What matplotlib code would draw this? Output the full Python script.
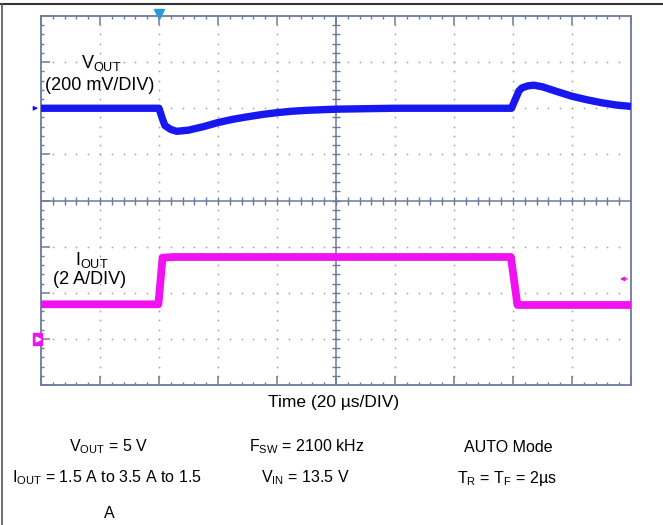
import matplotlib
matplotlib.use("Agg")
import matplotlib.pyplot as plt
import matplotlib.transforms as mtrans
from matplotlib.patches import Rectangle
from matplotlib.lines import Line2D
import numpy as np

plt.rcParams['font.family'] = ['Liberation Sans', 'DejaVu Sans']
plt.rcParams['mathtext.fontset'] = 'custom'
plt.rcParams['mathtext.rm'] = 'Liberation Sans'
plt.rcParams['mathtext.it'] = 'Liberation Sans'

# ---- data ----
# time in microseconds (20 us/DIV, 10 DIV)
t_vout = [0, 40, 41, 42, 44, 46, 50, 55, 60, 65, 70, 75, 80, 85, 90, 100, 110, 120,
          159.5, 161, 162, 163, 165, 167, 170, 175, 180, 185, 190, 195, 200]
# output voltage deviation from 5 V, in mV (200 mV/DIV)
vout_dev = [0, 0, -40, -75, -92, -100, -95, -80, -62, -48, -37, -27, -19, -13, -9, -4, -2, 0,
            0, 45, 75, 88, 97, 100, 93, 72, 52, 37, 24, 14, 8]
# output current in A (2 A/DIV)
t_iout = [0, 39.8, 41.2, 45, 100, 159.3, 161.5, 165, 200]
iout = [1.5, 1.5, 3.52, 3.55, 3.55, 3.55, 1.47, 1.47, 1.47]

time_per_div = 20.0    # us
vout_per_div = 200.0   # mV
iout_per_div = 2.0     # A
vout_pos_div = 2.0     # channel offset in DIV
iout_zero_div = -3.0   # Iout zero marker position in DIV
trig_time = 40.0
iout_level_marker = 2.6

frame_col = '#6c7a9c'
dot_col = '#a8a8a8'
vcol = '#1717f0'
icol = '#f012f0'

fig = plt.figure(figsize=(6.63, 5.25), dpi=100)
W, H = 663, 525
ax = fig.add_axes([41 / W, 140 / H, 590 / W, 369 / H])
ax.set_xlim(0, 10 * time_per_div)
ax.set_ylim(-4, 4)

# frame
for s in ax.spines.values():
    s.set_color(frame_col)
    s.set_linewidth(1.3)
ax.set_xticks(np.arange(0, 10 * time_per_div + 1, time_per_div))
ax.set_xticks(np.arange(0, 10 * time_per_div + 0.1, time_per_div / 5), minor=True)
ax.set_yticks(np.arange(-4, 5, 1))
ax.set_yticks(np.arange(-4, 4.01, 0.2), minor=True)
ax.tick_params(which='both', direction='in', top=True, right=True, bottom=True, left=True,
               labelbottom=False, labelleft=False, color=frame_col)
ax.tick_params(which='major', length=6.5, width=1.1)
ax.tick_params(which='minor', length=2.5, width=1.0)

# dotted grid
xmaj = np.arange(1, 10) * time_per_div
ymaj = np.arange(-3, 4)
ymin_pos = np.arange(-4, 4.01, 0.2)[1:-1]
xmin_pos = np.arange(0, 10 * time_per_div + 0.1, time_per_div / 5)[1:-1]
for xm in xmaj:
    if abs(xm - 5 * time_per_div) < 1e-6:
        continue
    ax.plot(np.full_like(ymin_pos, xm), ymin_pos, ls='none', marker='o', ms=1.3,
            mfc=dot_col, mec='none', zorder=1)
for ym in ymaj:
    if ym == 0:
        continue
    ax.plot(xmin_pos, np.full_like(xmin_pos, ym), ls='none', marker='o', ms=1.3,
            mfc=dot_col, mec='none', zorder=1)

# center cross with ticks
ax.axhline(0, color=frame_col, lw=1.1, zorder=1.5)
ax.axvline(5 * time_per_div, color=frame_col, lw=1.1, zorder=1.5)
ax.plot(xmin_pos, np.zeros_like(xmin_pos), ls='none', marker='|', ms=6, mew=1.0,
        color=frame_col, zorder=1.5)
ax.plot(np.full_like(ymin_pos, 5 * time_per_div), ymin_pos, ls='none', marker='_', ms=6,
        mew=1.0, color=frame_col, zorder=1.5)

# trace axes
ax_v = ax.twinx()
ax_v.set_ylim((-4 - vout_pos_div) * vout_per_div, (4 - vout_pos_div) * vout_per_div)
ax_i = ax.twinx()
ax_i.set_ylim((-4 - iout_zero_div) * iout_per_div, (4 - iout_zero_div) * iout_per_div)
for a in (ax_v, ax_i):
    a.set_axis_off()

ax_v.plot(t_vout, vout_dev, color=vcol, lw=5.3, solid_joinstyle='round',
          solid_capstyle='butt')
ax_i.plot(t_iout, iout, color=icol, lw=5.6, solid_joinstyle='round',
          solid_capstyle='butt')

# trigger marker
ax.plot([trig_time], [4.05], marker='v', ms=7, color='#2a9ad6', clip_on=False, zorder=5)

# Vout position marker
ax_v.annotate('', xy=(0, 0), xycoords=('axes fraction', 'data'),
              xytext=(-7, 0), textcoords='offset points',
              arrowprops=dict(arrowstyle='-|>', color=vcol, lw=1.0, mutation_scale=6),
              annotation_clip=False)

# Iout zero marker
bt = mtrans.blended_transform_factory(fig.transFigure, ax_i.transData)
ax_i.add_patch(Rectangle((33 / W, -0.26), 9 / W, 0.52, transform=bt, color=icol,
                         clip_on=False, zorder=6))
ax_i.plot([37.5 / W], [0], marker='>', ms=3.5, color='white', transform=bt,
          clip_on=False, zorder=7)

# Iout trigger level marker
ax_i.annotate('', xy=(195.3, iout_level_marker), xytext=(199.7, iout_level_marker),
              arrowprops=dict(arrowstyle='-|>', color=icol, lw=1.0, mutation_scale=6))

# trace labels
def fy(ypix):
    return 1 - ypix / H

fig.text(101 / W, fy(63), r'V$_{\mathregular{OUT}}$', ha='center', va='center', fontsize=13)
fig.text(100 / W, fy(85), '(200 mV/DIV)', ha='center', va='center', fontsize=13)
fig.text(92 / W, fy(260), r'I$_{\mathregular{OUT}}$', ha='center', va='center', fontsize=13)
fig.text(90 / W, fy(280), '(2 A/DIV)', ha='center', va='center', fontsize=13)

# axis title and conditions
fig.text(334 / W, fy(403), 'Time (20 µs/DIV)', ha='center', va='center', fontsize=12.5)
fs = 11.5
fig.text(109 / W, fy(447), r'V$_{\mathregular{OUT}}$ = 5 V', ha='center', va='center', fontsize=fs)
fig.text(307 / W, fy(447), r'F$_{\mathregular{SW}}$ = 2100 kHz', ha='center', va='center', fontsize=fs)
fig.text(508 / W, fy(447), 'AUTO Mode', ha='center', va='center', fontsize=fs)
fig.text(107 / W, fy(478), r'I$_{\mathregular{OUT}}$ = 1.5 A to 3.5 A to 1.5', ha='center',
         va='center', fontsize=fs)
fig.text(305 / W, fy(478), r'V$_{\mathregular{IN}}$ = 13.5 V', ha='center', va='center', fontsize=fs)
fig.text(507 / W, fy(478), r'T$_{\mathregular{R}}$ = T$_{\mathregular{F}}$ = 2µs', ha='center',
         va='center', fontsize=fs)
fig.text(109 / W, fy(513), 'A', ha='center', va='center', fontsize=fs)

# figure border (top and left)
fig.add_artist(Line2D([0, 1], [fy(4), fy(4)], transform=fig.transFigure, color='#333333', lw=1.5))
fig.add_artist(Line2D([1.5 / W, 1.5 / W], [0, fy(4)], transform=fig.transFigure,
                      color='#555555', lw=1.2))

fig.savefig('out.png', dpi=100)
